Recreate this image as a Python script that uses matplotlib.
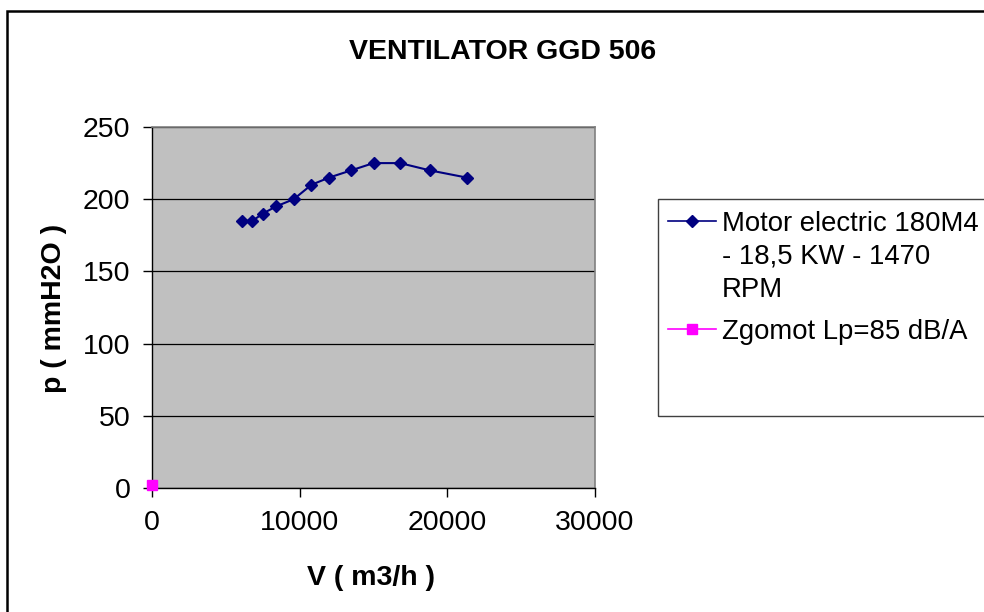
import matplotlib
matplotlib.use("Agg")
import matplotlib.pyplot as plt
from matplotlib.lines import Line2D
from matplotlib.patches import Rectangle

# Data
flow_v = [6100, 6800, 7500, 8400, 9600, 10800, 12000, 13500, 15000, 16800, 18800, 21300]
pressure_p = [185, 185, 190, 195, 200, 210, 215, 220, 225, 225, 220, 215]
noise_x = [0]
noise_y = [2]
series_labels = ["Motor electric 180M4", "- 18,5 KW - 1470", "RPM", "Zgomot Lp=85 dB/A"]
x_ticks = [0, 10000, 20000, 30000]
y_ticks = [0, 50, 100, 150, 200, 250]
title = "VENTILATOR GGD 506"
x_label = "V ( m3/h )"
y_label = "p ( mmH2O )"

plt.rcParams['font.family'] = ['Liberation Sans', 'DejaVu Sans']
FS = 20.5
LFS = 19.8

W, H = 984, 612
fig = plt.figure(figsize=(W / 100, H / 100), dpi=100)
fig.patch.set_facecolor('white')

def fx(px):
    return px / W

def fy(py):
    return 1 - py / H

ax = fig.add_axes([fx(152), fy(488), fx(595) - fx(152), fy(127) - fy(488)])
ax.set_facecolor('#C0C0C0')

line1, = ax.plot(flow_v, pressure_p, color='#000080', lw=1.5, marker='D',
                 markersize=6.5, markerfacecolor='#000080', markeredgecolor='#000080', zorder=3)
line2, = ax.plot(noise_x, noise_y, color='#FF00FF', lw=1.5, marker='s',
                 markersize=7, markerfacecolor='#FF00FF', markeredgecolor='#FF00FF',
                 clip_on=False, zorder=4)

ax.set_xlim(0, 30000)
ax.set_ylim(0, 250)
ax.set_xticks(x_ticks)
ax.set_yticks(y_ticks)
ax.set_xticklabels([str(v) for v in x_ticks])
ax.set_yticklabels([str(v) for v in y_ticks])
ax.tick_params(axis='both', direction='out', length=6.5, width=1, colors='black',
               labelsize=FS, pad=9)

ax.yaxis.grid(True, color='black', lw=0.9)
ax.set_axisbelow(True)
for s in ['top', 'right']:
    ax.spines[s].set_color('#808080')
    ax.spines[s].set_linewidth(1.2)
for s in ['left', 'bottom']:
    ax.spines[s].set_color('black')
    ax.spines[s].set_linewidth(1.0)

fig.text(fx(503), fy(52), title, ha='center', va='center', fontsize=FS, fontweight='bold')
fig.text(fx(371), fy(578), x_label, ha='center', va='center', fontsize=FS, fontweight='bold')
fig.text(fx(54), fy(308), y_label, ha='center', va='center', fontsize=FS, fontweight='bold',
         rotation=90)

# Legend
blank = Line2D([], [], color='none')
h1 = Line2D([], [], color='#000080', lw=1.2, marker='D', markersize=6,
            markerfacecolor='#000080', markeredgecolor='#000080')
h2 = Line2D([], [], color='#FF00FF', lw=1.2, marker='s', markersize=6.5,
            markerfacecolor='#FF00FF', markeredgecolor='#FF00FF')
common = dict(loc='upper left', frameon=False, fontsize=LFS, handlelength=1.75,
              handletextpad=0.22, labelspacing=0.25, borderpad=0, borderaxespad=0)
legA = fig.legend(handles=[h1, blank, blank], labels=series_labels[:3],
                  bbox_to_anchor=(fx(668), fy(211)), **common)
legB = fig.legend(handles=[h2], labels=series_labels[3:],
                  bbox_to_anchor=(fx(668), fy(319)), **common)

fig.patches.append(Rectangle((fx(658), fy(416)), fx(1000) - fx(658), fy(199) - fy(416),
                             transform=fig.transFigure, fill=False, edgecolor='#404040',
                             lw=1.0, figure=fig))
# Outer chart border
fig.patches.append(Rectangle((fx(7), fy(630)), fx(1000) - fx(7), fy(11) - fy(630),
                             transform=fig.transFigure, fill=False, edgecolor='black',
                             lw=1.8, figure=fig))

fig.savefig('out.png', dpi=100)
